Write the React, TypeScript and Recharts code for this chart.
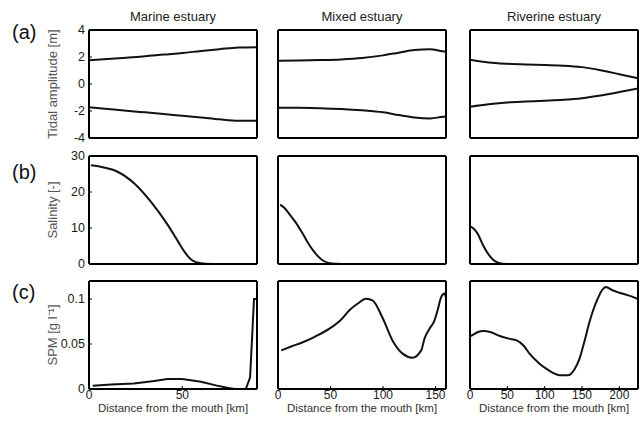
import React from 'react';
import { LineChart, Line, XAxis, YAxis } from 'recharts';

const FONT = '"Liberation Sans", Arial, Helvetica, sans-serif';

// ---- text ----
const estuaryTitles = ['Marine estuary', 'Mixed estuary', 'Riverine estuary'];
const rowLetters = ['(a)', '(b)', '(c)'];
const rowTitles = ['Tidal amplitude [m]', 'Salinity [-]', 'SPM [g l\u207B\u00B9]'];
const xAxisTitle = 'Distance from the mouth [km]';

// ---- axes ----
const xMax = [90, 160, 225];
const xTicks = [[0, 50], [0, 50, 100, 150], [0, 50, 100, 150, 200]];
const yDomains = [[-4, 4], [0, 30], [0, 0.12]];
const yTicks = [[-4, -2, 0, 2, 4], [0, 10, 20, 30], [0, 0.05, 0.1]];

// ---- (a) tidal amplitude [m] ----
const marineTideKm = [0, 10, 20, 30, 40, 50, 60, 70, 80, 90];
const marineTideHigh = [1.75, 1.85, 1.95, 2.05, 2.18, 2.3, 2.45, 2.58, 2.7, 2.73];
const marineTideLow = [-1.72, -1.85, -1.98, -2.1, -2.22, -2.35, -2.48, -2.62, -2.72, -2.73];

const mixedTideKm = [0, 20, 40, 60, 80, 100, 115, 130, 145, 155, 160];
const mixedTideHigh = [1.73, 1.74, 1.77, 1.82, 1.92, 2.12, 2.32, 2.52, 2.58, 2.45, 2.38];
const mixedTideLow = [-1.75, -1.76, -1.79, -1.85, -1.95, -2.1, -2.3, -2.48, -2.55, -2.45, -2.4];

const riverTideKm = [0, 25, 50, 75, 100, 125, 150, 175, 200, 225];
const riverTideHigh = [1.8, 1.6, 1.5, 1.44, 1.4, 1.36, 1.25, 1.02, 0.72, 0.42];
const riverTideLow = [-1.68, -1.5, -1.37, -1.3, -1.24, -1.17, -1.05, -0.85, -0.6, -0.33];

// ---- (b) salinity [-] ----
const marineSalKm = [1, 8, 15, 24, 33, 42, 48, 51, 55, 60, 66];
const marineSal = [27.4, 26.8, 25.7, 22.5, 17.4, 11, 6, 3.5, 1.1, 0.2, 0];

const mixedSalKm = [2, 6, 11, 17, 24, 30, 36, 42, 48, 55, 62];
const mixedSal = [16.5, 15.6, 13.8, 11.5, 8.2, 5.2, 2.8, 1.1, 0.3, 0.05, 0];

const riverSalKm = [1, 5, 10, 18, 25, 31, 36, 40, 45, 49];
const riverSal = [10.4, 9.8, 8.5, 5, 2.6, 1.2, 0.5, 0.2, 0.05, 0];

// ---- (c) SPM [g/l] ----
const marineSpmKm = [2, 12, 24, 35, 42, 50, 60, 68, 74, 78, 84, 86.3, 88.4, 90];
const marineSpm = [0.0037, 0.005, 0.0062, 0.009, 0.011, 0.011, 0.008, 0.004, 0.0013, 0, 0, 0.013, 0.1, 0.1];

const mixedSpmKm = [3, 12, 23.6, 35, 49, 60, 68, 76, 84, 90, 100, 109, 119, 128, 136.4, 139.5, 144.3, 149, 152, 155.4, 158.6, 160];
const mixedSpm = [0.0429, 0.047, 0.052, 0.058, 0.067, 0.077, 0.0874, 0.095, 0.1003, 0.0985, 0.078, 0.054, 0.039, 0.0348, 0.0429, 0.056, 0.067, 0.076, 0.0874, 0.102, 0.106, 0.101];

const riverSpmKm = [0, 2.6, 10, 18, 28, 40, 52, 62.5, 72, 80, 92, 102, 111, 120, 131, 140, 146.7, 153, 160, 166, 171, 177, 182, 190, 200, 212, 222, 225];
const riverSpm = [0.0585, 0.0596, 0.063, 0.0644, 0.063, 0.0589, 0.056, 0.054, 0.048, 0.039, 0.029, 0.0226, 0.018, 0.0152, 0.0152, 0.022, 0.0337, 0.052, 0.0744, 0.09, 0.1003, 0.11, 0.1133, 0.11, 0.107, 0.104, 0.101, 0.1];

function buildTable(xs: number[], cols: Record<string, number[]>) {
  return xs.map((x, i) => {
    const row: Record<string, number> = { x };
    for (const k of Object.keys(cols)) row[k] = cols[k][i];
    return row;
  });
}

// layout
const PLOT_LEFT = [89, 278, 470];
const PLOT_TOP = [30, 156, 281];
const PLOT_W = 168;
const PLOT_H = 108;
const ML = 62;
const MR = 4;
const MT = 28;
const MB = 34;
const X_AXIS_H = 30;

type PanelProps = {
  row: number;
  col: number;
  data: Record<string, number>[];
  keys: string[];
  curve?: 'monotone' | 'linear';
};

function Panel({ row, col, data, keys, curve = 'monotone' }: PanelProps) {
  const isLeft = col === 0;
  const isBottom = row === 2;
  const domainX: [number, number] = [0, xMax[col]];
  const domainY = yDomains[row] as [number, number];
  const axisLine = { stroke: '#000', strokeWidth: 2 };
  const tickLine = { stroke: '#000', strokeWidth: 1 };
  const yTickStyle = { fontSize: 12.5, fill: '#1a1a1a', fontFamily: FONT };
  const xTickStyle = { fontSize: 12, fill: '#1a1a1a', fontFamily: FONT };
  const bottomH = isBottom ? X_AXIS_H : 1;
  const leftW = isLeft ? ML : 1;
  return (
    <div style={{ position: 'absolute', left: PLOT_LEFT[col] - ML, top: PLOT_TOP[row] - MT }}>
      <LineChart
        width={PLOT_W + ML + MR}
        height={PLOT_H + MT + MB}
        data={data}
        margin={{ top: MT - 1, right: MR - 1, bottom: MB - bottomH, left: ML - leftW }}
      >
        <XAxis
          xAxisId="x"
          type="number"
          dataKey="x"
          domain={domainX}
          ticks={xTicks[col]}
          allowDataOverflow
          interval={0}
          orientation="bottom"
          height={bottomH}
          tick={isBottom ? xTickStyle : false}
          tickSize={-3}
          tickMargin={4}
          axisLine={axisLine}
          tickLine={tickLine}
          label={
            isBottom
              ? { value: xAxisTitle, position: 'insideBottom', offset: 7, fill: '#333', fontSize: 11.5, style: { fontFamily: FONT } }
              : undefined
          }
        />
        <XAxis
          xAxisId="top"
          type="number"
          dataKey="x"
          domain={domainX}
          ticks={xTicks[col]}
          allowDataOverflow
          interval={0}
          orientation="top"
          height={1}
          tick={false}
          tickSize={-3}
          axisLine={axisLine}
          tickLine={tickLine}
          label={
            row === 0
              ? { value: estuaryTitles[col], position: 'top', offset: 8, fill: '#222', fontSize: 13, style: { fontFamily: FONT } }
              : undefined
          }
        />
        <YAxis
          yAxisId="y"
          type="number"
          domain={domainY}
          ticks={yTicks[row]}
          allowDataOverflow
          interval={0}
          orientation="left"
          width={leftW}
          tick={isLeft ? yTickStyle : false}
          tickSize={-3}
          tickMargin={7}
          axisLine={axisLine}
          tickLine={tickLine}
          label={
            isLeft
              ? {
                  value: rowTitles[row],
                  angle: -90,
                  position: 'insideLeft',
                  offset: 25,
                  fill: '#555',
                  fontSize: 13,
                  style: { textAnchor: 'middle', fontFamily: FONT },
                }
              : undefined
          }
        />
        <YAxis
          yAxisId="right"
          type="number"
          domain={domainY}
          ticks={yTicks[row]}
          allowDataOverflow
          interval={0}
          orientation="right"
          width={1}
          tick={false}
          tickSize={-3}
          axisLine={axisLine}
          tickLine={tickLine}
        />
        {keys.map((k) => (
          <Line
            key={k}
            xAxisId="x"
            yAxisId="y"
            dataKey={k}
            type={curve}
            stroke="#111"
            strokeWidth={2}
            dot={false}
            activeDot={false}
            isAnimationActive={false}
          />
        ))}
      </LineChart>
    </div>
  );
}

export default function App() {
  const tide = [
    buildTable(marineTideKm, { high: marineTideHigh, low: marineTideLow }),
    buildTable(mixedTideKm, { high: mixedTideHigh, low: mixedTideLow }),
    buildTable(riverTideKm, { high: riverTideHigh, low: riverTideLow }),
  ];
  const sal = [
    buildTable(marineSalKm, { s: marineSal }),
    buildTable(mixedSalKm, { s: mixedSal }),
    buildTable(riverSalKm, { s: riverSal }),
  ];
  const spm = [
    buildTable(marineSpmKm, { c: marineSpm }),
    buildTable(mixedSpmKm, { c: mixedSpm }),
    buildTable(riverSpmKm, { c: riverSpm }),
  ];
  const letterTops = [22, 162, 282];
  return (
    <div
      style={{
        position: 'absolute',
        left: 0,
        top: 0,
        width: 641,
        height: 424,
        overflow: 'hidden',
        background: '#fff',
        fontFamily: FONT,
      }}
    >
      {rowLetters.map((t, i) => (
        <div
          key={t}
          style={{ position: 'absolute', left: 12, top: letterTops[i], fontSize: 20, lineHeight: '20px', color: '#111' }}
        >
          {t}
        </div>
      ))}
      {[0, 1, 2].map((c) => (
        <Panel key={'a' + c} row={0} col={c} data={tide[c]} keys={['high', 'low']} />
      ))}
      {[0, 1, 2].map((c) => (
        <Panel key={'b' + c} row={1} col={c} data={sal[c]} keys={['s']} />
      ))}
      {[0, 1, 2].map((c) => (
        <Panel key={'c' + c} row={2} col={c} data={spm[c]} keys={['c']} curve={c === 0 ? 'linear' : 'monotone'} />
      ))}
    </div>
  );
}
